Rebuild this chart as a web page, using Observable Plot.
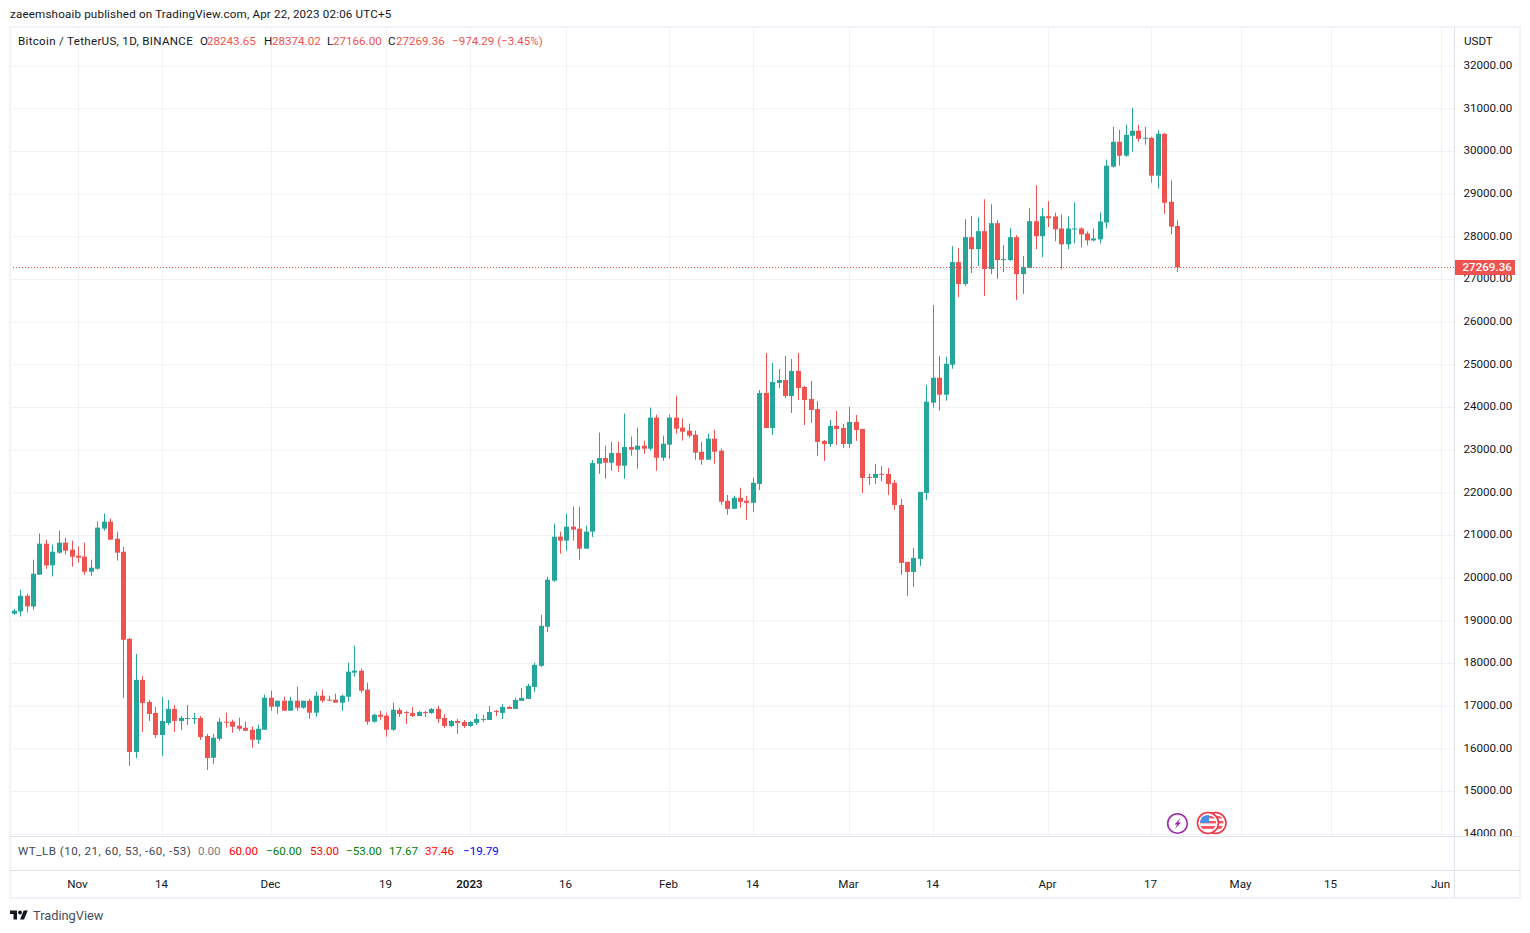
<!DOCTYPE html>
<html><head><meta charset="utf-8">
<script src="https://cdn.jsdelivr.net/npm/d3@7"></script>
<script src="https://cdn.jsdelivr.net/npm/@observablehq/plot@0.6"></script>
<style>
html,body{margin:0;padding:0;background:#fff;overflow:hidden;width:1530px;height:933px}
body{position:relative;font-family:Roboto,sans-serif;color:#131722}
#chart{position:absolute;left:0;top:0}
.t{position:absolute;white-space:nowrap;font-size:11.6px;line-height:14px}
.b{position:absolute}
</style></head><body>
<div id="chart"></div>
<script>
const opens=[19155,19208,19575,19325,20068,20796,20287,20585,20820,20655,
20514,20491,20139,20209,21148,21313,20913,20608,18566,15913,17603,17087,16829,16312,16594,16923,16641,16688,16688,16711,16289,15778,16224,16623,16623,16529,16482,16435,16200,16435,
17186,16975,17116,16881,17116,16952,17116,16834,17233,17140,17140,17069,17210,17773,17820,17374,16623,16787,16764,16435,16899,16852,16829,16758,16852,16829,16923,16711,16524,16641,16618,
16524,16594,16665,16665,16876,16829,16970,16923,17111,17157,17439,17932,18848,19928,20960,20867,21195,21148,20679,21078,22670,22803,22693,22920,22623,23061,22998,23092,23022,23750,22811,
23116,23750,23515,23445,23351,22951,22764,23257,22975,21801,21613,21872,21801,21754,22196,24328,23508,24563,24633,24258,24844,24469,24188,23953,23204,23133,23555,23508,
23133,23649,23485,22360,22337,22430,22430,22220,21704,20369,20134,20439,21985,24100,24685,24287,24989,27396,26882,27980,27699,28120,27232,28307,27442,27442,27980,27115,27255,28354,28003,
28471,28464,28184,27811,28161,28184,28067,27904,27927,28324,29631,30215,29888,30355,30472,30285,30308,29421,30401,28809,28243.65];
const highs=[19270,19716,19622,20420,21031,20890,20773,21101,20937,20867,
20726,20820,20420,21313,21500,21383,21078,20726,18590,18214,17697,17134,16970,17204,17134,17017,16758,17017,16829,16758,16336,16341,16717,16834,16670,16717,16623,16506,16553,17257,
17351,17116,17210,17210,17445,17116,17163,17327,17374,17233,17280,17257,18008,18407,17867,17539,16811,16881,16834,17069,16946,16876,16970,16876,16876,16946,16993,16805,16665,16688,16665,
16641,16805,16782,16993,16899,17040,16993,17181,17416,17510,18003,19129,20021,21266,21078,21500,21665,21665,21219,22756,23398,23092,23186,23186,23844,23304,23515,23210,23984,23820,23327,
23820,24266,23726,23609,23445,23186,23374,23468,23022,21942,21919,22106,21919,22337,24398,25265,25031,24891,25195,25125,25265,24492,24609,24141,23227,23696,23906,23602,
24000,23813,23485,22430,22665,22618,22571,22290,21845,20369,20697,22009,24521,26391,25199,25175,27770,27723,28400,28471,28447,28868,28751,28377,27793,28190,28027,27536,28658,29195,28658,
28821,28553,28511,28464,28791,28207,28114,28184,28558,29795,30565,30495,30612,31008,30612,30565,30331,30495,30425,29312,28374.02];
const lows=[19130,19090,19184,19247,20068,20209,20029,20561,20538,20256,
20350,20068,20045,20186,21101,20890,20397,17181,15585,15772,16383,16641,16242,15819,16547,16383,16430,16547,16570,16195,15491,15637,16177,16482,16365,16412,16400,16013,16107,16435,
16881,16811,16881,16881,16881,16928,16693,16740,17069,17116,17069,16881,17093,17680,17304,16553,16600,16670,16271,16412,16735,16571,16735,16758,16735,16805,16594,16477,16500,16336,16477,
16500,16547,16618,16665,16758,16688,16923,16923,17111,17157,17322,17909,18730,19904,20561,20632,20867,20420,20679,20950,22435,22318,22506,22482,22318,22858,22553,22905,22975,22506,22740,
22787,23374,23210,23280,22764,22646,22764,22670,21707,21473,21613,21637,21355,21540,22055,23508,23344,24445,24211,23860,24164,23578,23625,22852,22735,23063,23110,23040,
23040,23204,21985,22173,22196,22266,21938,21587,20064,19572,19783,20275,21821,23983,23913,24147,24895,26578,26835,27139,27302,26601,27115,27000,27162,27419,26508,26648,27255,27699,27513,
28214,27881,27227,27694,27834,27741,27787,27881,27834,28184,29608,29655,29865,29981,30215,30145,29258,29118,28529,28044,27166];
const closes=[19225,19575,19325,20092,20796,20287,20608,20820,20632,20491,
20467,20139,20233,21172,21313,20890,20585,18542,15913,17603,17064,16805,16312,16641,16923,16641,16711,16711,16711,16265,15772,16247,16623,16600,16506,16459,16412,16200,16459,17186,
16975,17116,16881,17116,16952,17116,16834,17233,17116,17116,17069,17233,17797,17820,17351,16623,16787,16740,16435,16905,16805,16829,16758,16852,16829,16923,16688,16524,16641,16594,16524,
16618,16688,16688,16852,16852,16970,16923,17134,17181,17463,17956,18871,19951,20960,20867,21195,21125,20679,21078,22686,22803,22693,22920,22623,23061,22998,23092,23022,23750,22811,23139,
23750,23491,23421,23327,22928,22764,23257,22951,21778,21613,21872,21778,21754,22224,24328,23508,24586,24633,24258,24844,24445,24164,23930,23180,23133,23555,23485,23133,
23649,23461,22337,22337,22430,22407,22196,21704,20345,20134,20462,22009,24124,24685,24287,25012,27396,26882,27980,27699,28120,27232,28307,27442,27466,27980,27115,27279,28354,28003,28471,
28424,28161,27811,28184,28184,28044,27904,27951,28348,29655,30215,29888,30378,30472,30285,30308,29421,30401,28785,28225,27269.36];
const firstDay="2022-10-22";
const priceTicks=[14000,15000,16000,17000,18000,19000,20000,21000,22000,23000,24000,25000,26000,27000,28000,29000,30000,31000,32000];
const timeTicks=["2022-11-01","2022-11-14","2022-12-01","2022-12-19","2023-01-01","2023-01-16","2023-02-01","2023-02-14","2023-03-01","2023-03-14","2023-04-01","2023-04-17","2023-05-01","2023-05-15","2023-06-01"];
const timeLabels=["Nov","14","Dec","19","2023","16","Feb","14","Mar","14","Apr","17","May","15","Jun"];
const lastClose=27269.36;
const GREEN="#26a69a",RED="#ef5350",GRID="#f1f2f5",TXT="#131722";

const day=864e5,t0=new Date(firstDay+"T00:00:00Z");
const candles=opens.map((o,i)=>({date:new Date(+t0+i*day),open:o,high:highs[i],low:lows[i],close:closes[i],dir:closes[i]>=o?"up":"down"}));
const tickDates=timeTicks.map(s=>new Date(s+"T00:00:00Z"));
const labelOf=new Map(tickDates.map((d,i)=>[+d,timeLabels[i]]));
const nov1=+tickDates[0];

const plot=Plot.plot({
  width:1530,height:933,marginLeft:10,marginRight:76,marginTop:27,marginBottom:97,
  style:{background:"transparent",fontFamily:"Roboto,sans-serif",fontSize:"11.6px",color:TXT},
  x:{type:"utc",domain:[new Date(nov1-10.58*day),new Date(nov1+214.10*day)],round:true},
  y:{domain:[13945,32905]},
  color:{domain:["up","down"],range:[GREEN,RED]},
  marks:[
    Plot.ruleY(priceTicks,{stroke:GRID,strokeWidth:1}),
    Plot.ruleX(tickDates,{stroke:GRID,strokeWidth:1}),
    Plot.ruleX(candles,{x:"date",y1:"low",y2:"high",stroke:"dir",strokeWidth:1}),
    Plot.ruleX(candles,{x:"date",y1:"open",y2:"close",stroke:"dir",strokeWidth:5}),
    Plot.ruleY([lastClose],{stroke:RED,strokeWidth:1,strokeDasharray:"1,2",dy:-0.5}),
    Plot.axisY(priceTicks,{anchor:"right",tickSize:0,tickPadding:9,label:null,textAnchor:"start",tickFormat:d=>d.toFixed(2),fill:TXT,dy:-1}),
    Plot.axisX(tickDates,{anchor:"bottom",tickSize:0,tickPadding:43,label:null,tickFormat:d=>labelOf.get(+d),fill:TXT,dx:-1}),
    Plot.ruleY([lastClose],{stroke:RED,strokeWidth:15,insetLeft:1445,insetRight:-61,dy:-0.5}),
    Plot.text([lastClose],{y:d=>d,text:d=>d.toFixed(2),frameAnchor:"right",textAnchor:"start",dx:8,dy:-1,fill:"#fff",fontWeight:500,clip:false})
  ]
});
document.getElementById("chart").appendChild(plot);
d3.select(plot).selectAll("text").filter(function(){return this.textContent==="2023"}).style("font-weight","600");

function box(l,t,w,h,c){const d=document.createElement("div");d.className="b";d.style.cssText=`left:${l}px;top:${t}px;width:${w}px;height:${h}px;background:${c}`;document.body.appendChild(d);return d}
function txt(s,l,t,c,extra){const d=document.createElement("div");d.className="t";d.textContent=s;d.style.left=l+"px";d.style.top=t+"px";if(c)d.style.color=c;if(extra)d.style.cssText+=extra;document.body.appendChild(d);return d}

// panes and frame
box(1455,837,64,33,"#fff");
const OUT="#f0f3fa",IN="#e0e3eb";
box(9,26,1512,2,OUT);box(9,897,1512,2,OUT);box(9,26,2,873,OUT);box(1519,26,2,873,OUT);
box(10,836,1510,1,IN);box(10,870,1510,1,IN);box(1454,27,1,871,IN);

// header
const HC="#ef5350";
txt("zaeemshoaib published on TradingView.com, Apr 22, 2023 02:06 UTC+5",10,7,"#131722","letter-spacing:.18px");
txt("Bitcoin / TetherUS, 1D, BINANCE",18,34,null,"letter-spacing:.3px");
txt("O",200,34);txt("28243.65",207,34,HC);
txt("H",264,34);txt("28374.02",272,34,HC);
txt("L",327,34);txt("27166.00",333,34,HC);
txt("C",388,34);txt("27269.36",396,34,HC);
txt("\u2212974.29 (\u22123.45%)",452,34,HC);
txt("USDT",1464,34);
// indicator legend
txt("WT_LB (10, 21, 60, 53, -60, -53)",18,844,"#434651","letter-spacing:.5px");
[["0.00",198,"#787b86"],["60.00",229,"#ff0000"],["\u221260.00",266,"#008000"],["53.00",310,"#ff0000"],["\u221253.00",346,"#008000"],["17.67",389,"#008000"],["37.46",425,"#ff0000"],["\u221219.79",463,"#0000ff"]]
 .forEach(r=>txt(r[0],r[1],844,r[2]));
// footer
const ns=`<svg class="b" style="left:10px;top:909px" width="18" height="12" viewBox="0 3 36 20"><path fill="#131722" d="M14 22H7V11H0V4h14v18zM28 22h-8l7.5-18h8L28 22z"/><circle fill="#131722" cx="20" cy="8" r="4"/></svg>`;
document.body.insertAdjacentHTML("beforeend",ns);
txt("TradingView",33,908,"#4a4e59","font-size:12.8px;line-height:15px");
// event icons
function flag(cx){return `<g><circle cx="${cx}" cy="12" r="10.5" fill="#fff" stroke="#f23645" stroke-width="1.6"/><clipPath id="c${cx}"><circle cx="${cx}" cy="12" r="8"/></clipPath><g clip-path="url(#c${cx})"><rect x="${cx-9}" y="3" width="18" height="18" fill="#fff"/><rect x="${cx-9}" y="5" width="18" height="2.4" fill="#f7525f"/><rect x="${cx-9}" y="10" width="18" height="2.4" fill="#f7525f"/><rect x="${cx-9}" y="15" width="18" height="2.8" fill="#f7525f"/><rect x="${cx-9}" y="3" width="10" height="9" fill="#4a90e2"/></g></g>`}
document.body.insertAdjacentHTML("beforeend",`<svg class="b" style="left:1160px;top:811px" width="70" height="25" viewBox="0 0 70 25">
<circle cx="17.5" cy="12.5" r="9.8" fill="#fff" stroke="#9c27b0" stroke-width="1.6"/><path d="M20.5 7 L14.5 13.5 H17.2 L15 18 L21 11.5 H18.2 Z" fill="#9c27b0"/>
<g transform="translate(0,0)">${flag(55.5)}${flag(48)}</g></svg>`);
</script>
</body></html>
